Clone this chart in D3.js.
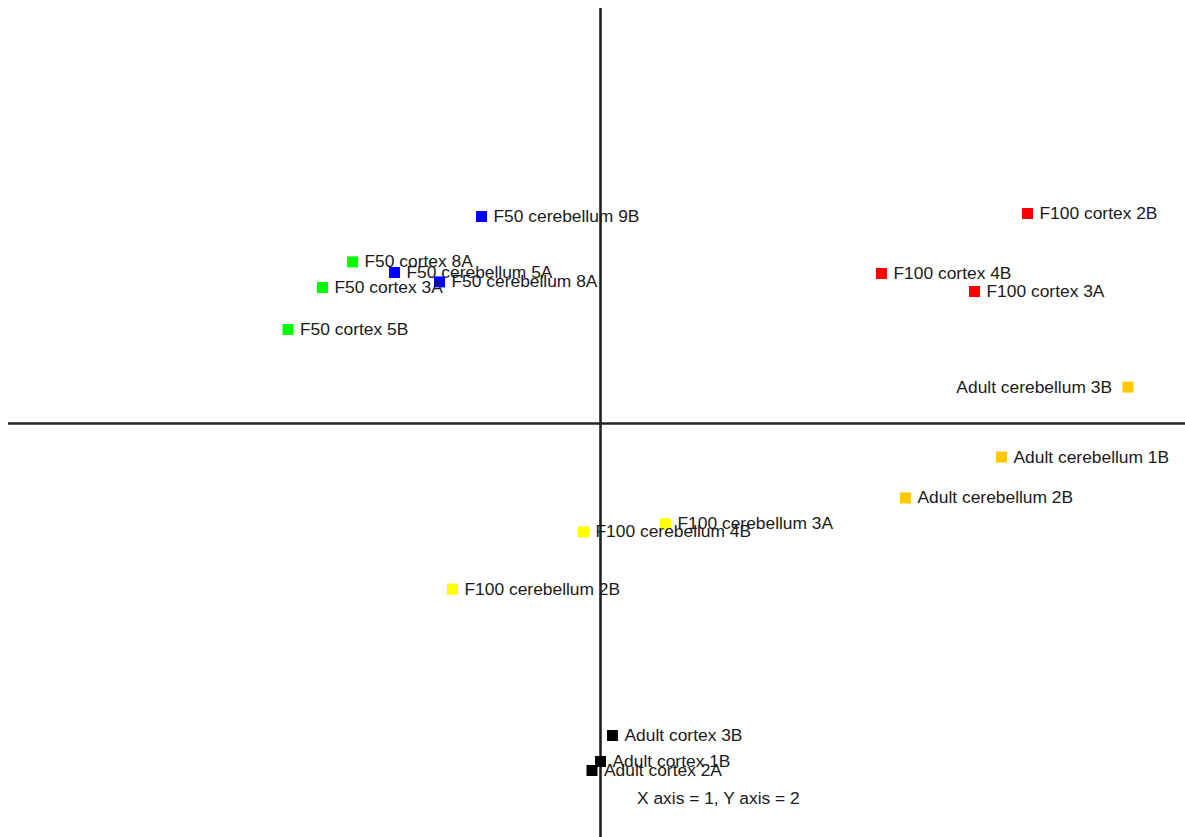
<!DOCTYPE html>
<html>
<head>
<meta charset="utf-8">
<script src="https://cdn.jsdelivr.net/npm/d3@7"></script>
<style>
  html, body { margin: 0; padding: 0; background: #fff; }
  svg { display: block; }
</style>
</head>
<body>
<svg id="chart" width="1185" height="837"></svg>
<script>
// Sample labels (PCA score plot, component 1 vs component 2)
const labels = [
  "F50 cerebellum 9B", "F50 cerebellum 5A", "F50 cerebellum 8A",
  "F50 cortex 8A", "F50 cortex 3A", "F50 cortex 5B",
  "F100 cortex 2B", "F100 cortex 4B", "F100 cortex 3A",
  "Adult cerebellum 3B", "Adult cerebellum 1B", "Adult cerebellum 2B",
  "F100 cerebellum 3A", "F100 cerebellum 4B", "F100 cerebellum 2B",
  "Adult cortex 3B", "Adult cortex 1B", "Adult cortex 2A"
];
const groups = [
  "F50 cerebellum", "F50 cerebellum", "F50 cerebellum",
  "F50 cortex", "F50 cortex", "F50 cortex",
  "F100 cortex", "F100 cortex", "F100 cortex",
  "Adult cerebellum", "Adult cerebellum", "Adult cerebellum",
  "F100 cerebellum", "F100 cerebellum", "F100 cerebellum",
  "Adult cortex", "Adult cortex", "Adult cortex"
];
// Component 1 scores
const pc1 = [
  -0.238, -0.412, -0.322,
  -0.496, -0.556, -0.625,
   0.854,  0.562,  0.748,
   1.055,  0.802,  0.610,
   0.130, -0.034, -0.296,
   0.024,  0.000, -0.017
];
// Component 2 scores
const pc2 = [
   0.5175, 0.3775, 0.354,
   0.404,  0.340,  0.235,
   0.525,  0.375,  0.330,
   0.091, -0.084, -0.186,
  -0.251, -0.271, -0.414,
  -0.780, -0.845, -0.8675
];
const groupNames = ["F50 cerebellum", "F50 cortex", "F100 cortex", "Adult cerebellum", "F100 cerebellum", "Adult cortex"];
const groupColors = ["#0000ff", "#00ff00", "#ff0000", "#ffc800", "#ffff00", "#000000"];
const leftLabeled = ["Adult cerebellum 3B"];
const caption = "X axis = 1, Y axis = 2";

const svg = d3.select("#chart");
const x = d3.scaleLinear().domain([-1, 1]).range([100.5, 1100.5]);
const y = d3.scaleLinear().domain([-1, 1]).range([823.5, 23.5]);
const color = d3.scaleOrdinal().domain(groupNames).range(groupColors);

// axes crossing at origin
svg.append("line")
  .attr("x1", 8).attr("x2", 1185)
  .attr("y1", y(0)).attr("y2", y(0))
  .attr("stroke", "#222").attr("stroke-width", 2.6);
svg.append("line")
  .attr("x1", x(0)).attr("x2", x(0))
  .attr("y1", 8).attr("y2", 837)
  .attr("stroke", "#222").attr("stroke-width", 2.6);

const data = labels.map((l, i) => ({ label: l, group: groups[i], x: pc1[i], y: pc2[i] }));
const size = 11;
const font = "'Liberation Sans', Arial, sans-serif";

const g = svg.append("g");
data.forEach(d => {
  const cx = x(d.x), cy = y(d.y);
  g.append("rect")
    .attr("x", cx - size / 2).attr("y", cy - size / 2)
    .attr("width", size).attr("height", size)
    .attr("fill", color(d.group));
  const left = leftLabeled.includes(d.label);
  g.append("text")
    .attr("x", left ? cx - 16 : cx + 12)
    .attr("y", cy + 5.5)
    .attr("text-anchor", left ? "end" : "start")
    .attr("font-family", font)
    .attr("font-size", "17.4px")
    .attr("fill", "#1a1a1a")
    .text(d.label);
});

svg.append("text")
  .attr("x", 637).attr("y", 803.5)
  .attr("font-family", font)
  .attr("font-size", "17.4px")
  .attr("fill", "#1a1a1a")
  .text(caption);
</script>
</body>
</html>
